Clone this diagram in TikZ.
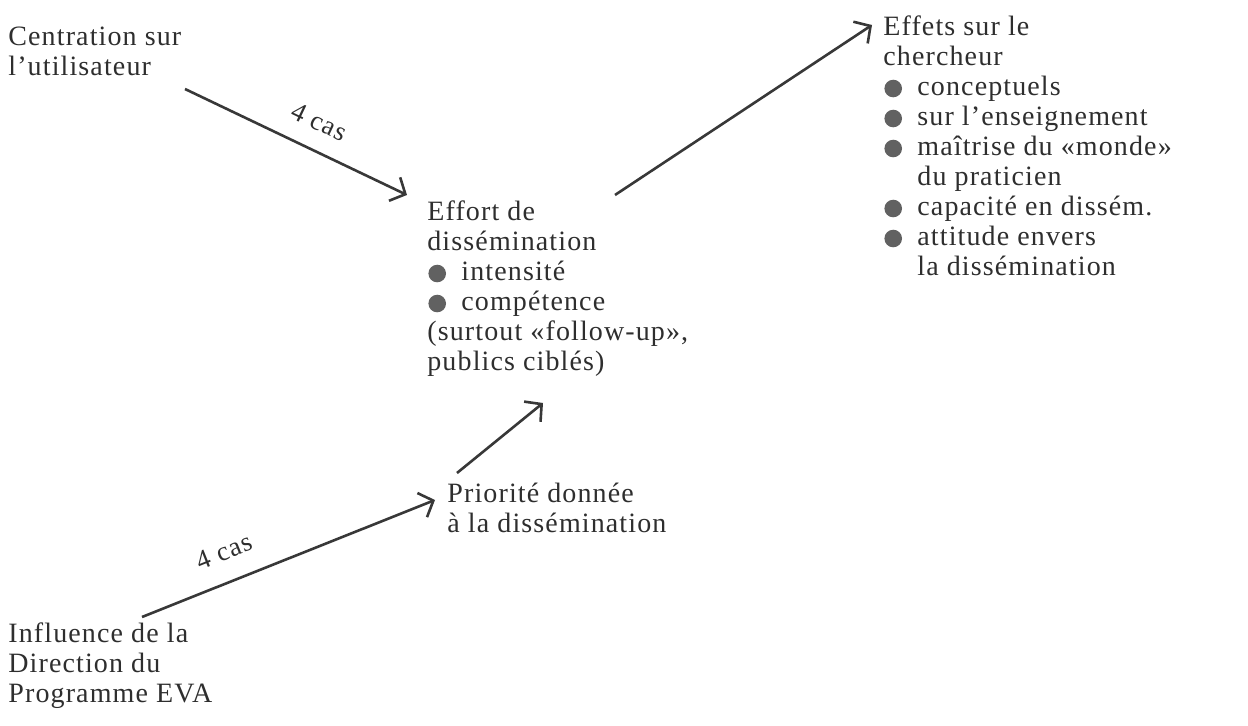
\documentclass[tikz,border=0pt]{standalone}
\usepackage{fontspec}
\setmainfont{Liberation Serif}[LetterSpace=4]
\usetikzlibrary{calc, arrows.meta}
\tikzset{
  bloc/.style={anchor=north west, inner sep=0pt, align=left, text=black!82,
    font=\fontsize{14}{15}\selectfont},
  fleche/.style={-{Straight Barb[length=6pt, width=13pt, line width=1.3pt]}, line width=1.3pt, black!78},
  cas/.style={inner sep=0pt, text=black!82, font=\fontsize{13.5}{13.5}\selectfont}
}
\newcommand{\puce}{\makebox[17pt][l]{\hspace{0.5pt}\tikz[x=1pt, y=1pt, baseline=-3.3pt]\fill[black!62] (0,0) circle (4.4pt);}}
\newcommand{\retrait}{\hspace*{17pt}}

\begin{document}
\begin{tikzpicture}[x=0.5pt, y=-0.5pt]
  \useasboundingbox (0,0) rectangle (1248,726);

  \node[bloc] (centration) at (8,27) {Centration sur\\l’utilisateur};
  \node[bloc] (effort) at (427,200) {Effort de\\dissémination\\\puce intensité\\\puce compétence\\(surtout «follow-up»,\\publics ciblés)};
  \node[bloc] (effets) at (883,15) {Effets sur le\\chercheur\\\puce conceptuels\\\puce sur l’enseignement\\\puce maîtrise du «monde»\\\retrait du praticien\\\puce capacité en dissém.\\\puce attitude envers\\\retrait la dissémination};
  \node[bloc] (priorite) at (447,483) {Priorité donnée\\à la dissémination};
  \node[bloc] (influence) at (8,622) {Influence de la\\Direction du\\Programme EVA};

  % fleches
  \draw[fleche] ($(centration.north west)+(177,62)$) -- node[cas, sloped, above=9pt, pos=0.55] {4 cas} ($(effort.north west)+(-20,-5)$);
  \draw[fleche] ($(effort.north west)+(188,-5)$) -- ($(effets.north west)+(-11,10)$);
  \draw[fleche] ($(priorite.north west)+(10,-10)$) -- ($(effort.north west)+(116,203)$);
  \draw[fleche] ($(influence.north west)+(134,-5)$) -- node[cas, sloped, above=10pt, pos=0.32] {4 cas} ($(priorite.north west)+(-12,17)$);

\end{tikzpicture}
\end{document}
